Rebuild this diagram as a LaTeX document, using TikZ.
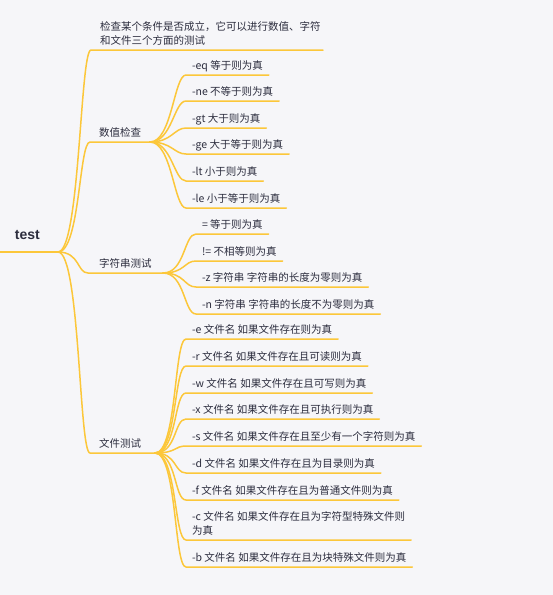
\documentclass[tikz,border=0pt]{standalone}
\usepackage{fontspec}
\newfontfamily\cjk{Noto Sans CJK SC}
\newfontfamily\rootfont{Liberation Sans}
\definecolor{bg}{RGB}{246,246,249}
\definecolor{branch}{RGB}{252,199,58}
\definecolor{ink}{RGB}{44,45,62}
\begin{document}
\begin{tikzpicture}[x=1pt,y=-1pt,
  base/.style={font=\cjk\fontsize{10.5}{14}\selectfont, text=ink, anchor=south west,
    inner ysep=3.5pt, text depth=2pt, outer sep=0pt, align=left},
  topic/.style={base, inner xsep=9pt},
  leaf/.style={base, inner xsep=6pt},
  rootsty/.style={font=\rootfont\bfseries\fontsize{14}{16}\selectfont, text=ink, anchor=south west,
    inner xsep=0pt, inner ysep=13pt, text depth=0pt, outer sep=0pt, text width=58pt, align=left},
  link/.style={draw=branch, line width=1.5pt, line cap=round}
]
\fill[bg] (0,0) rectangle (553,595);
\useasboundingbox (0,0) rectangle (553,595);

% root
\node[rootsty] (root) at (0,252) {\hspace*{15pt}test};

% level 1
\node[topic, text width=214pt, text depth=16pt] (desc) at (91,50) {检查某个条件是否成立，它可以进行数值、字符\\和文件三个方面的测试};
\node[topic, text width=42pt] (num) at (90,142) {数值检查};
\node[topic, inner xsep=11pt, text width=53pt] (str) at (88,273) {字符串测试};
\node[topic, text width=47pt] (file) at (90,453) {文件测试};

% numeric
\node[leaf] (eq) at (186,75) {-eq 等于则为真};
\node[leaf] (ne) at (186,101) {-ne 不等于则为真};
\node[leaf] (gt) at (186,128) {-gt 大于则为真};
\node[leaf] (ge) at (186,154) {-ge 大于等于则为真};
\node[leaf] (lt) at (186,181) {-lt 小于则为真};
\node[leaf] (le) at (186,208) {-le 小于等于则为真};

% string
\node[leaf] (s1) at (196,234) {= 等于则为真};
\node[leaf] (s2) at (196,261) {!= 不相等则为真};
\node[leaf] (s3) at (196,287) {-z 字符串 字符串的长度为零则为真};
\node[leaf] (s4) at (196,314) {-n 字符串 字符串的长度不为零则为真};

% file
\node[leaf] (f1) at (186,339) {-e 文件名 如果文件存在则为真};
\node[leaf] (f2) at (186,366) {-r 文件名 如果文件存在且可读则为真};
\node[leaf] (f3) at (186,393) {-w 文件名 如果文件存在且可写则为真};
\node[leaf] (f4) at (186,419) {-x 文件名 如果文件存在且可执行则为真};
\node[leaf] (f5) at (186,446) {-s 文件名 如果文件存在且至少有一个字符则为真};
\node[leaf] (f6) at (186,473) {-d 文件名 如果文件存在且为目录则为真};
\node[leaf] (f7) at (186,500) {-f 文件名 如果文件存在且为普通文件则为真};
\node[leaf] (f8) at (186,540) {-c 文件名 如果文件存在且为字符型特殊文件则\\为真};
\node[leaf] (f9) at (186,567) {-b 文件名 如果文件存在且为块特殊文件则为真};

% connectors
\draw[link] (root.south west) -- (root.south east);
\foreach \c in {desc,num,str,file}
  \draw[link] (root.south east) .. controls +(22,0) and +(-11,0) .. (\c.south west) -- (\c.south east);
\foreach \c in {eq,ne,gt,ge,lt,le}
  \draw[link] (num.south east) .. controls +(22,0) and +(-12,0) .. (\c.south west) -- (\c.south east);
\foreach \c in {s1,s2,s3,s4}
  \draw[link] (str.south east) .. controls +(22,0) and +(-12,0) .. (\c.south west) -- (\c.south east);
\foreach \c in {f1,f2,f3,f4,f5,f6,f7,f8,f9}
  \draw[link] (file.south east) .. controls +(22,0) and +(-12,0) .. (\c.south west) -- (\c.south east);
\end{tikzpicture}
\end{document}
